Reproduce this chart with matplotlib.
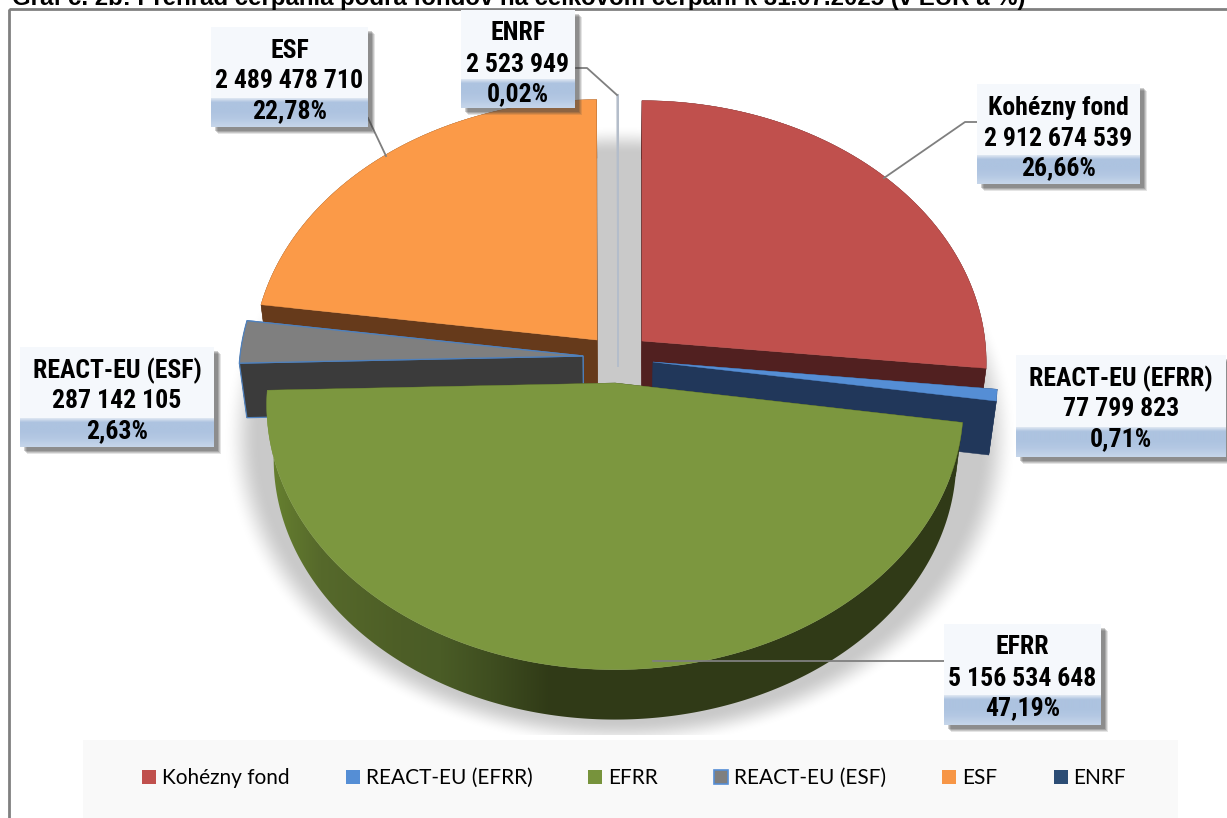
import numpy as np
import matplotlib
matplotlib.use("Agg")
import matplotlib.pyplot as plt
from matplotlib.patches import Polygon, Rectangle, Patch
from matplotlib.colors import to_rgb

names = ["Kohézny fond", "REACT-EU (EFRR)", "EFRR", "REACT-EU (ESF)", "ESF", "ENRF"]
values = [2912674539, 77799823, 5156534648, 287142105, 2489478710, 2523949]

title = "Graf č. 2b: Prehľad čerpania podľa fondov na celkovom čerpaní k 31.07.2025 (v EUR a %)"

# farby: vrch, bok
top_colors = ["#c0504d", "#558ed5", "#7c973f", "#7f7f7f", "#fb9a48", "#ffffff"]
side_colors = ["#512020", "#21375a", "#303a17", "#3b3b3b", "#663a1b", "#b4bdca"]
legend_colors = ["#c0504d", "#558ed5", "#77933c", "#7f7f7f", "#f79646", "#2c4d75"]

# vybratie dielikov (stred kazdeho dielika v pixeloch)
apex = [(642, 341), (653, 362), (615, 383), (583, 356), (597, 340), (618, 335)]
scale = [1.0, 1.0, 1.012, 1.0, 1.0, 1.0]
depth = [54, 54, 54, 54, 54, 31]
draw_order = [5, 4, 0, 3, 1, 2]

# x0, x1, y0, y1, zaciatok modreho pasu
boxes = [
    (977, 1140, 84, 184, 155),
    (1016, 1226, 355, 457, 427),
    (944, 1101, 624, 725, 695),
    (20, 214, 347, 447, 418),
    (211, 368, 27, 127, 98),
    (461, 575, 10, 108, 79),
]
leader_lines = [
    [(977, 122), (965, 122), (884, 178)],
    [(653, 661), (956, 661)],
    [(368, 118), (386, 156)],
    [(576, 68), (587, 68), (617, 95)],
]

RX, RY, K = 343, 260, 0.082

plt.rcParams['font.family'] = ['Liberation Sans', 'DejaVu Sans']
BOX_FONT = ['Roboto Condensed', 'Liberation Sans']


def project(i, th):
    X, Y = np.sin(th), -np.cos(th)
    s = scale[i] / (1 - K * Y)
    return apex[i][0] + RX * X * s, apex[i][1] + RY * Y * s


def lower(x, y, d):
    return 615 + 0.98 * (np.asarray(x) - 615), 400 + 0.985 * (np.asarray(y) - 400) + d


def draw_slice(ax, i, th0, th1, z):
    top, side = top_colors[i], side_colors[i]
    if i == 3:
        edge_top = edge_side = dict(edgecolor="#4f81bd", linewidth=0.9)
    elif i == 5:
        edge_top = edge_side = dict(edgecolor=side, linewidth=1.1)
    else:
        edge_top = dict(edgecolor=top, linewidth=0.3)
        edge_side = dict(edgecolor=side, linewidth=0.3)
    ax0, ay0 = apex[i]
    bx0, by0 = lower(ax0, ay0, depth[i])
    # vonkajsi bok
    ths = np.linspace(th0, th1, max(int(np.degrees(th1 - th0)) * 2 + 2, 2))
    x, y = project(i, ths)
    bx, by = lower(x, y, depth[i])
    wall_pts = list(zip(x, y)) + list(zip(bx[::-1], by[::-1]))
    if i == 2:
        # tmavnutie boku zlava doprava
        xs = np.arange(240, 1000)
        stops = [272, 320, 400, 440, 490, 550]
        cols = np.array([to_rgb(c) for c in ["#66802f", "#56692b", "#4d5e26", "#4a5c26", "#3f4e20", "#303a17"]])
        img = np.dstack([np.interp(xs, stops, cols[:, c]) for c in range(3)])
        im = ax.imshow(img, extent=(240, 1000, 730, 380), aspect='auto', zorder=z)
        im.set_clip_path(Polygon(wall_pts, transform=ax.transData))
    else:
        ax.add_patch(Polygon(wall_pts, facecolor=side, edgecolor=side, linewidth=0.3, zorder=z))
    # rezne plochy, zadna skor
    for th in sorted([th0, th1], key=lambda t: -np.cos(t)):
        fx, fy = project(i, th)
        fbx, fby = lower(fx, fy, depth[i])
        ax.add_patch(Polygon([(ax0, ay0), (fx, fy), (fbx, fby), (bx0, by0)],
                             facecolor=side, zorder=z + 0.1, **edge_side))
    # vrch
    pts = [(ax0, ay0)] + list(zip(x, y))
    ax.add_patch(Polygon(pts, facecolor=top, zorder=z + 0.2, **edge_top))


def draw_box(ax, i, name, amount, pct):
    x0, x1, y0, y1, yb = boxes[i]
    for k, a in zip([7, 6, 5, 4], [0.14, 0.18, 0.22, 0.25]):
        ax.add_patch(Rectangle((x0 + k, y0 + k), x1 - x0, y1 - y0, facecolor="#404040",
                               edgecolor="none", alpha=a, zorder=20))
    ax.add_patch(Rectangle((x0, y0), x1 - x0, y1 - y0, facecolor="#f5f8fc",
                           edgecolor="none", zorder=21))
    grad = np.array([to_rgb(c) for c in ["#dfe7f2", "#adc3e0", "#adc3e0", "#b4c8e3", "#c6d6ea"]])
    pos = np.linspace(0, 1, 60)
    img = np.column_stack([np.interp(pos, [0, 0.14, 0.45, 0.7, 1], grad[:, c]) for c in range(3)])
    ax.imshow(img.reshape(60, 1, 3), extent=(x0, x1, y1, yb), aspect='auto', zorder=22,
              interpolation='bilinear')
    xc = (x0 + x1) / 2
    for dy, s in zip([21, 52, 82], [name, amount, pct]):
        ax.text(xc, y0 + dy, s, ha='center', va='center_baseline', fontsize=18.5, fontweight='bold',
                family=BOX_FONT, color="#000000", zorder=23)


fig = plt.figure(figsize=(12.27, 8.18), dpi=100)
ax = fig.add_axes([0, 0, 1, 1])

# tien pod grafom
xx, yy = np.meshgrid(np.arange(1227) + 0.5, np.arange(818) + 0.5)
rho = np.sqrt(((xx - 620) / 392) ** 2 + ((yy - 437) / 308) ** 2)
t = np.clip((1.01 - rho) / 0.09, 0, 1)
alpha = t * t * (3 - 2 * t)
alpha[yy > 735] = 0
shadow = np.dstack([np.full_like(xx, 0.79)] * 3 + [alpha])
ax.imshow(shadow, extent=(0, 1227, 818, 0), aspect='auto', zorder=1)

# uhly dielikov z hodnot, v smere hodinovych ruciciek od vrchu
angles = np.concatenate([[0], np.cumsum(values) / np.sum(values) * 2 * np.pi])
for z, i in enumerate(draw_order):
    draw_slice(ax, i, angles[i], angles[i + 1], 5 + z)

for pts in leader_lines:
    ax.plot([p[0] for p in pts], [p[1] for p in pts], color="#7f7f7f", lw=1.3, zorder=15)

total = sum(values)
for i, (n, v) in enumerate(zip(names, values)):
    amount = f"{v:,}".replace(",", " ")
    pct = f"{v / total * 100:.2f}%".replace(".", ",")
    draw_box(ax, i, n, amount, pct)

# ram a legenda
ax.add_patch(Rectangle((9, 9), 1300, 900, fill=False, edgecolor="#808080", lw=2, zorder=2))
ax.add_patch(Rectangle((83, 740), 1095, 90, facecolor="#f9f9f9", edgecolor="none", zorder=3))
handles = [Patch(facecolor=c, edgecolor="#558ed5" if n == "REACT-EU (ESF)" else c,
                 lw=1.2 if n == "REACT-EU (ESF)" else 0)
           for c, n in zip(legend_colors, names)]
leg = ax.legend(handles, names, ncol=6, frameon=False, loc='center left',
                bbox_to_anchor=(142, 778), bbox_transform=ax.transData,
                prop={'family': 'Lato', 'size': 15}, handlelength=0.67, handleheight=0.67,
                handletextpad=0.29, columnspacing=2.69, borderpad=0, borderaxespad=0)
leg.set_zorder(4)

ax.text(12, 5, title, fontsize=17.3, fontweight='bold', color="#000000", va='baseline', zorder=30)

ax.set_xlim(0, 1227)
ax.set_ylim(818, 0)
ax.axis('off')

fig.savefig("out.png", dpi=100)
